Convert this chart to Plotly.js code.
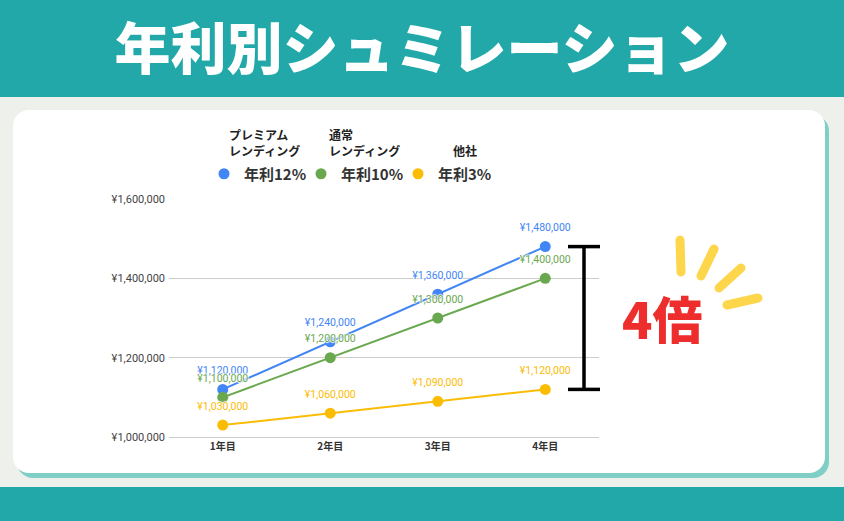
<!DOCTYPE html>
<html>
<head>
<meta charset="utf-8">
<script src="https://cdn.plot.ly/plotly-3.0.1.min.js"></script>
<style>
  html, body { margin:0; padding:0; }
  body { width:844px; height:521px; position:relative; overflow:hidden; background:#EEF0EB; }
  #topband { position:absolute; left:0; top:0; width:844px; height:97px; background:#22A8A8; }
  #botband { position:absolute; left:0; top:487px; width:844px; height:34px; background:#22A8A8; }
  #card { position:absolute; left:13px; top:110px; width:812px; height:363px; background:#fff;
          border-radius:16px; box-shadow:4px 5px 0 #80CFC6; }
  #chart { position:absolute; left:0; top:0; width:844px; height:521px; }
  #rays { position:absolute; left:0; top:0; width:844px; height:521px; pointer-events:none; }
</style>
</head>
<body>
<div id="topband"></div>
<div id="botband"></div>
<div id="card"></div>
<div id="chart"></div>
<svg id="rays" width="844" height="521">
  <g stroke="#FDD64B" stroke-width="9" stroke-linecap="round">
    <line x1="680" y1="240" x2="681" y2="272"/>
    <line x1="714" y1="249" x2="701" y2="276"/>
    <line x1="741" y1="268" x2="719" y2="288"/>
    <line x1="758" y1="298" x2="727" y2="305"/>
  </g>
</svg>
<script>
const years = ['1年目', '2年目', '3年目', '4年目'];
const premium = [1120000, 1240000, 1360000, 1480000];
const normal = [1100000, 1200000, 1300000, 1400000];
const other = [1030000, 1060000, 1090000, 1120000];
const seriesNames = ['年利12%', '年利10%', '年利3%'];
const seriesGroups = ['プレミアム<br>レンディング', '通常<br>レンディング', '他社'];
const seriesColors = ['#4285F4', '#6AA84F', '#FBBC04'];
const chartTitle = '年利別シュミレーション';
const ratioLabel = '4倍';

const seriesValues = [premium, normal, other];
const JP = "'Noto Sans CJK JP', 'Noto Sans', sans-serif";
const RB = "Roboto, 'Noto Sans CJK JP', sans-serif";
const halo = '1px 0 1px #fff, -1px 0 1px #fff, 0 1px 1px #fff, 0 -1px 1px #fff';

const traces = [];
seriesValues.forEach((vals, i) => {
  // line + markers
  traces.push({
    x: years, y: vals, type: 'scatter', mode: 'lines+markers',
    name: seriesNames[i], showlegend: false,
    line: { color: seriesColors[i], width: 2 },
    marker: { color: seriesColors[i], size: 11 },
    hoverinfo: 'skip', cliponaxis: false
  });
  // value labels (transparent marker sets the label offset)
  traces.push({
    x: years, y: vals, type: 'scatter', mode: 'markers+text',
    name: seriesNames[i], showlegend: false,
    marker: { color: 'rgba(0,0,0,0)', size: 19 },
    texttemplate: '¥%{y:,}', textposition: 'top center',
    textfont: { family: RB, size: 10.5, color: seriesColors[i], shadow: halo },
    hoverinfo: 'skip', cliponaxis: false
  });
});
seriesValues.forEach((vals, i) => {
  traces.push({
    x: [null], y: [null], type: 'scatter', mode: 'markers',
    name: seriesNames[i], showlegend: true,
    marker: { color: seriesColors[i], size: 11 }
  });
});

const lastTop = premium[premium.length - 1];
const lastBottom = other[other.length - 1];

const layout = {
  width: 844, height: 521,
  margin: { l: 169, r: 245, t: 199, b: 84 },
  paper_bgcolor: 'rgba(0,0,0,0)', plot_bgcolor: 'rgba(0,0,0,0)',
  title: {
    text: chartTitle,
    font: { family: JP, size: 56, color: '#ffffff', weight: 900 },
    x: 0.5, xref: 'container', xanchor: 'center',
    y: 1 - 49 / 521, yref: 'container', yanchor: 'middle'
  },
  xaxis: {
    type: 'category', range: [-0.5, 3.5], showgrid: false, zeroline: false,
    showline: true, linecolor: '#cccccc', linewidth: 1,
    ticks: '', tickfont: { family: JP, size: 10, color: '#333333', weight: 'bold' }
  },
  yaxis: {
    range: [1000000, 1600000], dtick: 200000, tickprefix: '¥', tickformat: ',',
    showgrid: true, gridcolor: '#cccccc', gridwidth: 1, zeroline: false,
    ticks: '', ticklabelstandoff: 3, tickfont: { family: RB, size: 11, color: '#444444' }
  },
  showlegend: true,
  legend: {
    orientation: 'h', x: (204 - 169) / 430, xanchor: 'left', y: (437 - 174) / 238, yanchor: 'middle',
    font: { family: JP, size: 15, color: '#333333', weight: 'bold' },
    itemwidth: 30, entrywidth: 52, bgcolor: 'rgba(0,0,0,0)', borderwidth: 0
  },
  annotations: [
    { text: seriesGroups[0], xref: 'paper', yref: 'paper', x: (227 - 169) / 430, y: (437 - 142) / 238,
      xanchor: 'left', yanchor: 'middle', align: 'left', showarrow: false,
      font: { family: JP, size: 12, color: '#222222', weight: 'bold' } },
    { text: seriesGroups[1], xref: 'paper', yref: 'paper', x: (327 - 169) / 430, y: (437 - 142) / 238,
      xanchor: 'left', yanchor: 'middle', align: 'left', showarrow: false,
      font: { family: JP, size: 12, color: '#222222', weight: 'bold' } },
    { text: seriesGroups[2], xref: 'paper', yref: 'paper', x: (451 - 169) / 430, y: (437 - 150) / 238,
      xanchor: 'left', yanchor: 'middle', align: 'left', showarrow: false,
      font: { family: JP, size: 12, color: '#222222', weight: 'bold' } },
    { text: ratioLabel, xref: 'paper', yref: 'paper', x: (662 - 169) / 430, y: (437 - 317) / 238,
      xanchor: 'center', yanchor: 'middle', showarrow: false,
      font: { family: JP, size: 50, color: '#EE2D2D', weight: 900 } }
  ],
  shapes: [
    { type: 'line', xref: 'paper', yref: 'y', x0: (584 - 169) / 430, x1: (584 - 169) / 430,
      y0: lastBottom, y1: lastTop, line: { color: '#000000', width: 3.5 } },
    { type: 'line', xref: 'paper', yref: 'y', x0: (568 - 169) / 430, x1: (600 - 169) / 430,
      y0: lastTop, y1: lastTop, line: { color: '#000000', width: 3.5 } },
    { type: 'line', xref: 'paper', yref: 'y', x0: (568 - 169) / 430, x1: (600 - 169) / 430,
      y0: lastBottom, y1: lastBottom, line: { color: '#000000', width: 3.5 } }
  ]
};

Plotly.newPlot('chart', traces, layout, { displayModeBar: false, staticPlot: true });
</script>
</body>
</html>
